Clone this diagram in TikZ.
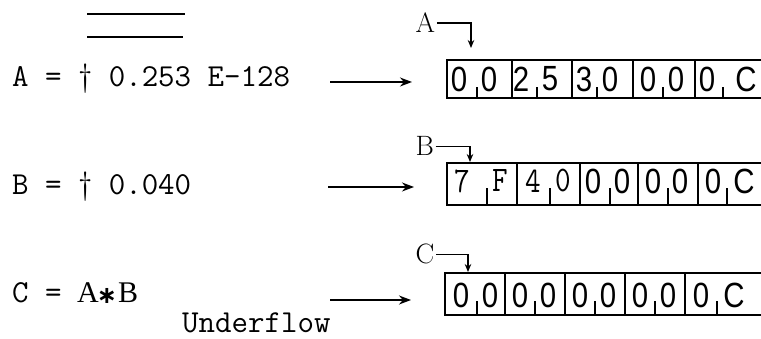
\documentclass[tikz,border=0pt]{standalone}
\usepackage{fontspec}
\usepackage{graphicx}
\newfontfamily\serifface{Liberation Serif}
\newfontfamily\regfont{Liberation Sans}
\newfontfamily\symfont{DejaVu Sans}
\usetikzlibrary{arrows.meta}

% narrow register characters
\newcommand\regch[1]{\scalebox{0.84}[1]{#1}}
% sign in front of the mantissa
\newcommand\sgn{{\rmfamily †}}

\begin{document}
\begin{tikzpicture}[x=1pt,y=-1pt,
  eqtext/.style={anchor=base west,inner sep=0pt,
    font=\ttfamily\fontsize{32}{34}\selectfont},
  serifbig/.style={anchor=base west,inner sep=0pt,
    font=\serifface\fontsize{30}{32}\selectfont},
  reglabel/.style={anchor=base west,inner sep=1.5pt,
    font=\rmfamily\fontsize{28}{30}\selectfont},
  cell/.style={draw,line width=1.8pt,inner sep=0pt,outer sep=0pt},
  digit/.style={inner sep=0pt,anchor=center,
    font=\regfont\fontsize{35}{37}\selectfont},
  sdigit/.style={inner sep=0pt,anchor=center,
    font=\ttfamily\fontsize{36}{38}\selectfont},
  tick/.style={line width=1.5pt},
  feed/.style={line width=1.5pt,-{Stealth[length=12pt,width=9pt]}},
  bent/.style={line width=1.5pt,-{Stealth[length=8pt,width=6.5pt]}},
]
\useasboundingbox (0,0) rectangle (761,339);

% double rule at the top
\draw[line width=1.6pt] (87,14) -- (185,14);
\draw[line width=1.6pt] (87,37) -- (183,37);

% left-hand statements
\node[eqtext] (ta) at (12,87) {A = \sgn{} 0.253 E-128};
\node[eqtext] (tb) at (12,195) {B = \sgn{} 0.040};
\node[eqtext] (tc) at (12,302) {C = };
\node[serifbig] (tcA) at (77,302) {A};
\node[inner sep=0pt,font=\symfont\bfseries\fontsize{24}{26}\selectfont] (tcx) at (107,296) {∗};
\node[serifbig] (tcB) at (118,302) {B};
\node[eqtext] (uf) at (182,332) {Underflow};

% feed arrows
\coordinate (fa0) at (330,82);  \coordinate (fa1) at (412,82);
\coordinate (fb0) at (328,187); \coordinate (fb1) at (414,187);
\coordinate (fc0) at (330,300); \coordinate (fc1) at (411,300);
\draw[feed] (fa0) -- (fa1);
\draw[feed] (fb0) -- (fb1);
\draw[feed] (fc0) -- (fc1);

% register A: cells L/R, first char x, tick x, second char x
\foreach \i/\l/\r/\p/\t/\q/\u/\v in
  {1/447/512/459/477/489/0/0, 2/512/572/521/537/550/2/5,
   3/572/633/584/597/610/3/0, 4/633/695/648/663/676/0/0,
   5/695/780/707/723/746/0/C}{
  \pgfmathsetmacro\w{\r-\l}
  \node[cell,minimum width=\w pt,minimum height=38pt] (rA\i) at ({(\l+\r)/2},79) {};
  \node[digit] (rA\i a) at (\p,79) {\regch{\u}};
  \node[digit] (rA\i b) at (\q,79) {\regch{\v}};
  \draw[tick] (\t,98) -- (\t,87);
}

% register B
\foreach \i/\l/\r/\p/\t/\q/\u/\v/\s in
  {1/447/517/462/487/500/7/F/sdigit, 2/517/580/533/550/563/4/0/sdigit,
   3/580/638/593/610/622/0/0/digit, 4/638/698/653/668/680/0/0/digit,
   5/698/780/713/727/744/0/C/digit}{
  \pgfmathsetmacro\w{\r-\l}
  \node[cell,minimum width=\w pt,minimum height=42pt] (rB\i) at ({(\l+\r)/2},184) {};
  \node[\s] (rB\i a) at (\p,181) {\regch{\u}};
  \node[\s] (rB\i b) at (\q,181) {\regch{\v}};
  \draw[tick] (\t,205) -- (\t,188);
}

% register C
\foreach \i/\l/\r/\p/\t/\q/\u/\v in
  {1/445/505/461/477/490/0/0, 2/505/565/520/535/548/0/0,
   3/565/625/580/595/608/0/0, 4/625/685/640/655/668/0/0,
   5/685/780/701/717/734/0/C}{
  \pgfmathsetmacro\w{\r-\l}
  \node[cell,minimum width=\w pt,minimum height=42pt] (rC\i) at ({(\l+\r)/2},294) {};
  \node[digit] (rC\i a) at (\p,295) {\regch{\u}};
  \node[digit] (rC\i b) at (\q,295) {\regch{\v}};
  \draw[tick] (\t,315) -- (\t,301);
}

% register names with bent pointers
\node[reglabel] (la) at (414,33) {A};
\node[reglabel] (lb) at (414,156) {B};
\node[reglabel] (lc) at (414,264) {C};
\coordinate (pa) at (471,48);
\coordinate (pb) at (470,162);
\coordinate (pc) at (468,272);
\draw[bent] (la.east) -| (pa);
\draw[bent] (lb.east) -| (pb);
\draw[bent] (lc.east) -| (pc);
\end{tikzpicture}
\end{document}
